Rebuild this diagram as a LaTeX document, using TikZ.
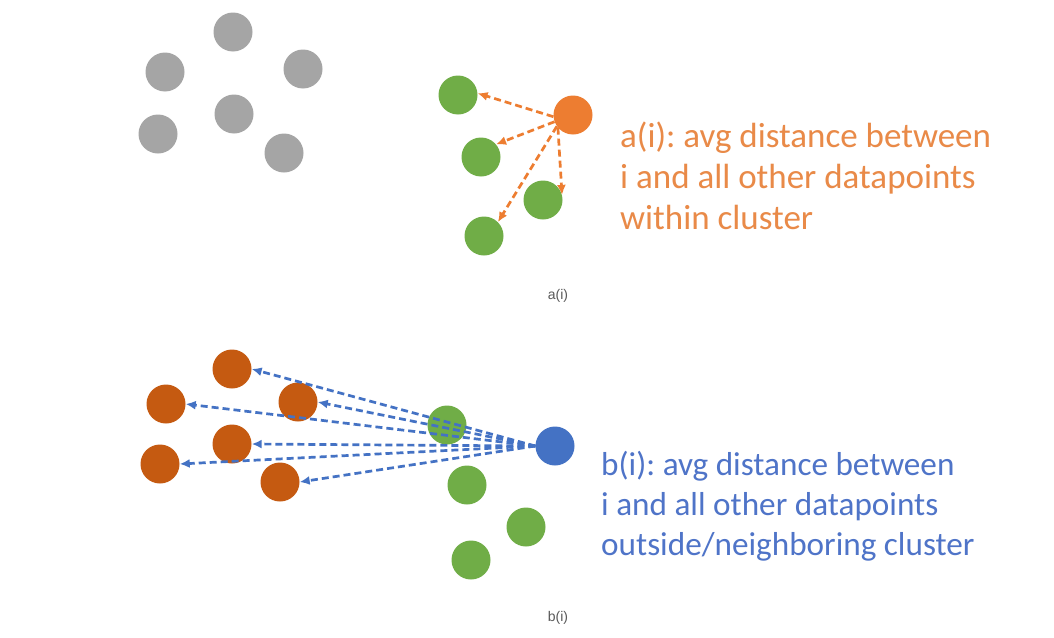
\documentclass[tikz,border=0pt]{standalone}
\usepackage{fontspec}
\setmainfont{Carlito}
\newfontfamily\capfont{Liberation Sans}
\usetikzlibrary{arrows.meta}
\definecolor{cgray}{HTML}{A5A5A5}
\definecolor{cgreen}{HTML}{70AD47}
\definecolor{corange}{HTML}{ED7D31}
\definecolor{cbrown}{HTML}{C55A11}
\definecolor{cblue}{HTML}{4472C4}
\definecolor{torange}{HTML}{E98A48}
\definecolor{tblue}{HTML}{4F74C8}
\definecolor{tcap}{HTML}{595959}
\frenchspacing
\begin{document}
\begin{tikzpicture}[x=1pt,y=-1pt,
  dot/.style={circle,inner sep=0pt,minimum size=39pt},
  gdot/.style={dot,fill=cgray},
  grdot/.style={dot,fill=cgreen},
  odot/.style={dot,fill=corange},
  bdot/.style={dot,fill=cbrown},
  bldot/.style={dot,fill=cblue},
  oarrow/.style={draw=corange,line width=2.7pt,dash pattern=on 7pt off 4pt,-{Latex[length=10pt,width=9pt]}},
  barrow/.style={draw=cblue,line width=2.7pt,dash pattern=on 7pt off 4pt,-{Latex[length=10pt,width=9pt]}},
  otext/.style={anchor=base west,inner sep=0pt,text=torange,font=\fontsize{35}{41}\selectfont},
  btext/.style={anchor=base west,inner sep=0pt,text=tblue,font=\fontsize{33.2}{40}\selectfont},
  caption/.style={inner sep=0pt,text=tcap,font=\capfont\fontsize{14}{16}\selectfont}]
\useasboundingbox (0,0) rectangle (1054,637);
\fill[white] (0,0) rectangle (1054,637);
% gray cluster
\node[gdot] (k1) at (233,32) {};
\node[gdot] (k2) at (165,72) {};
\node[gdot] (k3) at (303,69) {};
\node[gdot] (k4) at (234,114) {};
\node[gdot] (k5) at (158,134) {};
\node[gdot] (k6) at (284,153) {};
% top cluster
\node[grdot] (g1) at (458,95) {};
\node[odot] (o) at (573,115) {};
\node[grdot] (g2) at (481,157) {};
\node[grdot] (g3) at (543,200) {};
\node[grdot] (g4) at (484,236) {};
\draw[oarrow] (o.185) -- (g1.5);
\draw[oarrow] (o.200) -- (g2.40);
\draw[oarrow] (o.220) -- (g3.15);
\draw[oarrow] (o.215) -- (g4.45);
\node[otext] (ta1) at (620,147) {a(i): avg distance between};
\node[otext] (ta2) at (620,188) {i and all other datapoints};
\node[otext] (ta3) at (620,229) {within cluster};
\node[caption] (ca) at (558,296) {a(i)};
% bottom
\node[bdot] (p1) at (232,369) {};
\node[bdot] (p2) at (166,404) {};
\node[bdot] (p3) at (298,402) {};
\node[bdot] (p4) at (232,444) {};
\node[bdot] (p5) at (160,464) {};
\node[bdot] (p6) at (280,482) {};
\node[grdot] (h1) at (447,425) {};
\node[bldot] (b) at (555,446) {};
\node[grdot] (h2) at (467,485) {};
\node[grdot] (h3) at (526,527) {};
\node[grdot] (h4) at (471,560) {};
\foreach \p in {p1,p2,p3,p4,p5,p6}
  \draw[barrow] (b.west) -- (\p.east);
\node[btext] (tb1) at (601,475) {b(i): avg distance between};
\node[btext] (tb2) at (601,515) {i and all other datapoints};
\node[btext] (tb3) at (601,555) {outside/neighboring cluster};
\node[caption] (cb) at (558,618) {b(i)};
\end{tikzpicture}
\end{document}
